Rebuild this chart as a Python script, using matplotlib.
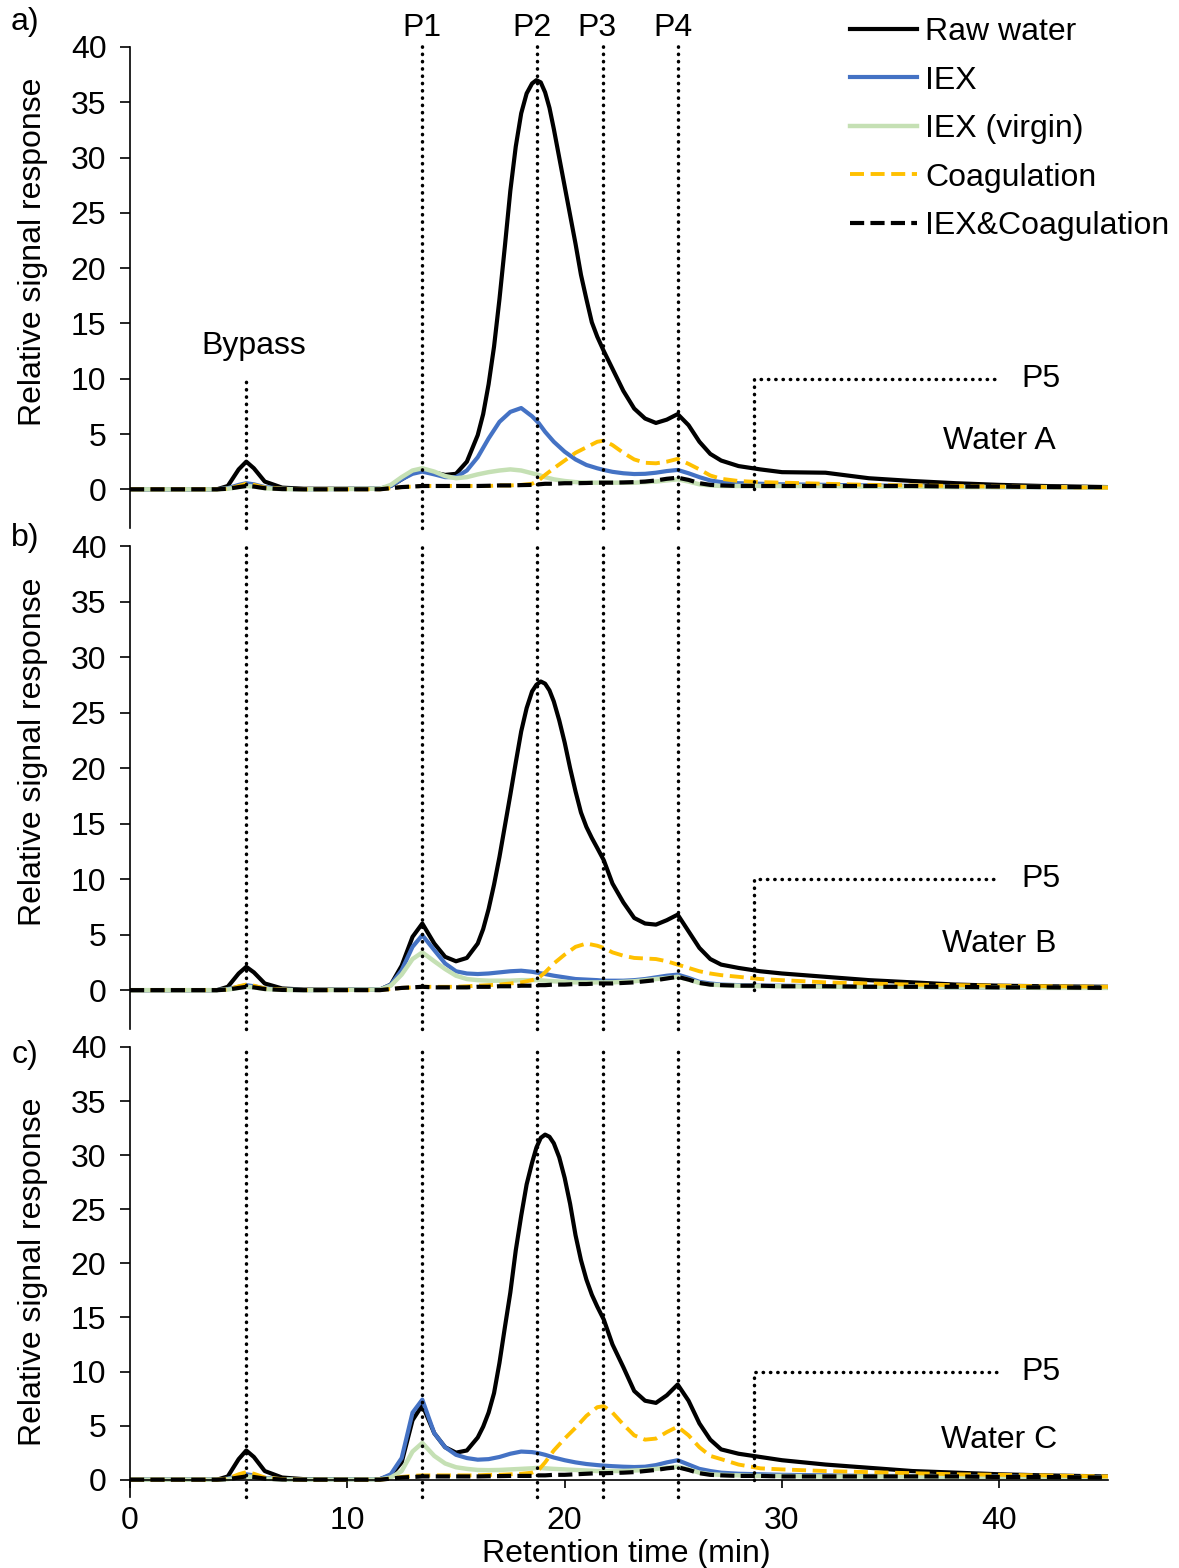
import numpy as np
import matplotlib.pyplot as plt

plt.rcParams['font.family'] = ['Liberation Sans', 'DejaVu Sans']
plt.rcParams['font.size'] = 23

# retention time grid (min) for the treated samples
t = [0, 4, 4.5, 5, 5.35, 5.7, 6.2, 7, 8, 11.5, 12, 12.5, 13, 13.45, 14, 14.5, 15, 15.5,
     16, 16.5, 17, 17.5, 18, 18.5, 18.8, 19.1, 19.5, 20, 20.5, 21, 21.5, 21.8, 22.2, 22.7,
     23.2, 23.7, 24.2, 24.7, 25.2, 25.7, 26.2, 26.7, 27.2, 28, 29, 30, 32, 34, 36, 38, 40, 42, 45]

# denser grid for the raw water (tall main peak)
t_raw = [0, 4, 4.5, 5, 5.35, 5.7, 6.2, 7, 8, 11.5, 12, 12.5, 13, 13.45, 14, 14.5, 15, 15.5,
         16, 16.25, 16.5, 16.75, 17, 17.25, 17.5, 17.75, 18, 18.25, 18.5, 18.7, 18.9, 19.1, 19.3,
         19.5, 19.75, 20, 20.25, 20.5, 20.75, 21, 21.25, 21.5, 21.8, 22.2, 22.7,
         23.2, 23.7, 24.2, 24.7, 25.2, 25.7, 26.2, 26.7, 27.2, 28, 29, 30, 32, 34, 36, 38, 40, 42, 45]

# --- Water A ---
raw_a = [0, 0, 0.3, 1.8, 2.5, 1.9, 0.7, 0.15, 0.05, 0.05, 0.3, 0.9, 1.5, 1.75, 1.5, 1.3, 1.4, 2.5,
         4.9, 6.8, 9.5, 12.9, 17.2, 22.0, 27.0, 31.0, 34.0, 35.8, 36.7, 37.0, 36.8, 35.9, 34.5,
         32.6, 30.0, 27.4, 24.8, 22.2, 19.4, 17.2, 15.1, 13.8, 12.5, 10.9, 8.9,
         7.3, 6.4, 6.0, 6.3, 6.8, 5.8, 4.3, 3.2, 2.6, 2.1, 1.8, 1.55, 1.5, 1.0, 0.75, 0.55, 0.4, 0.3, 0.2]
iex_a = [0, 0, 0.1, 0.4, 0.55, 0.45, 0.2, 0.05, 0, 0.05, 0.3, 0.9, 1.4, 1.6, 1.35, 1.1, 1.1, 1.7,
         2.9, 4.6, 6.1, 7.0, 7.35, 6.6, 6.0, 5.2, 4.3, 3.4, 2.7, 2.2, 1.9, 1.75, 1.58, 1.45,
         1.38, 1.4, 1.5, 1.65, 1.75, 1.45, 1.1, 0.8, 0.65, 0.55, 0.5, 0.45, 0.4, 0.35, 0.3, 0.25, 0.2, 0.2, 0.15]
virgin_a = [0, 0, 0.05, 0.2, 0.3, 0.25, 0.1, 0.02, 0, 0.05, 0.4, 1.1, 1.7, 1.9, 1.6, 1.2, 1.0, 1.1,
            1.35, 1.55, 1.7, 1.8, 1.7, 1.45, 1.3, 1.1, 0.9, 0.75, 0.65, 0.6, 0.6, 0.6, 0.6, 0.6,
            0.6, 0.65, 0.7, 0.8, 0.9, 0.7, 0.45, 0.35, 0.3, 0.3, 0.3, 0.3, 0.3, 0.25, 0.25, 0.2, 0.2, 0.2, 0.15]
coag_a = [0, 0, 0.05, 0.3, 0.5, 0.4, 0.15, 0.05, 0, 0, 0.1, 0.2, 0.25, 0.3, 0.3, 0.3, 0.3, 0.3,
          0.3, 0.3, 0.35, 0.35, 0.4, 0.5, 0.8, 1.3, 1.9, 2.6, 3.3, 3.8, 4.3, 4.4, 4.0, 3.3,
          2.7, 2.4, 2.35, 2.5, 2.75, 2.3, 1.8, 1.25, 0.95, 0.75, 0.65, 0.6, 0.5, 0.4, 0.35, 0.3, 0.25, 0.2, 0.15]
both_a = [0, 0, 0.05, 0.2, 0.3, 0.25, 0.1, 0.02, 0, 0, 0.1, 0.2, 0.25, 0.3, 0.3, 0.3, 0.3, 0.3,
          0.3, 0.32, 0.35, 0.35, 0.38, 0.4, 0.45, 0.5, 0.5, 0.55, 0.55, 0.57, 0.6, 0.6, 0.6, 0.62,
          0.65, 0.7, 0.8, 0.95, 1.05, 0.85, 0.55, 0.4, 0.35, 0.3, 0.3, 0.3, 0.3, 0.3, 0.3, 0.25, 0.25, 0.2, 0.2]

# --- Water B ---
raw_b = [0, 0, 0.3, 1.5, 2.1, 1.6, 0.6, 0.15, 0.05, 0.05, 0.5, 2.2, 4.8, 6.0, 4.2, 3.0, 2.6, 2.9,
         4.2, 5.5, 7.3, 9.5, 12.0, 14.8, 17.6, 20.5, 23.3, 25.4, 26.9, 27.5, 27.8, 27.6, 27.0,
         26.0, 24.3, 22.3, 20.0, 17.9, 16.0, 14.7, 13.7, 12.8, 11.7, 9.6, 7.9,
         6.5, 6.0, 5.9, 6.3, 6.8, 5.3, 3.8, 2.8, 2.3, 2.0, 1.7, 1.5, 1.2, 0.9, 0.7, 0.5, 0.4, 0.35, 0.3]
iex_b = [0, 0, 0.1, 0.3, 0.45, 0.35, 0.15, 0.05, 0, 0.05, 0.5, 1.8, 3.9, 4.95, 3.6, 2.4, 1.7, 1.5,
         1.45, 1.5, 1.6, 1.7, 1.75, 1.65, 1.55, 1.45, 1.3, 1.15, 1.0, 0.95, 0.9, 0.85, 0.85, 0.85,
         0.9, 1.0, 1.15, 1.3, 1.4, 1.1, 0.75, 0.6, 0.5, 0.45, 0.4, 0.4, 0.35, 0.3, 0.3, 0.25, 0.25, 0.2, 0.2]
virgin_b = [0, 0, 0.05, 0.2, 0.3, 0.25, 0.1, 0.02, 0, 0.05, 0.4, 1.4, 2.8, 3.4, 2.6, 1.9, 1.3, 1.0,
            0.9, 0.85, 0.85, 0.85, 0.9, 0.9, 0.9, 0.85, 0.8, 0.75, 0.7, 0.7, 0.7, 0.7, 0.7, 0.75,
            0.8, 0.9, 1.0, 1.1, 1.2, 0.95, 0.65, 0.5, 0.45, 0.4, 0.35, 0.35, 0.3, 0.3, 0.3, 0.25, 0.25, 0.2, 0.2]
coag_b = [0, 0, 0.05, 0.35, 0.5, 0.4, 0.15, 0.05, 0, 0, 0.1, 0.2, 0.25, 0.3, 0.3, 0.3, 0.3, 0.35,
          0.4, 0.45, 0.5, 0.6, 0.7, 0.9, 1.1, 1.6, 2.4, 3.2, 3.9, 4.2, 4.0, 3.8, 3.4, 3.1,
          2.9, 2.85, 2.8, 2.6, 2.3, 2.0, 1.7, 1.5, 1.35, 1.2, 1.0, 0.9, 0.7, 0.6, 0.5, 0.45, 0.4, 0.35, 0.3]
both_b = [0, 0, 0.05, 0.2, 0.3, 0.25, 0.1, 0.02, 0, 0, 0.1, 0.2, 0.25, 0.3, 0.25, 0.25, 0.25, 0.25,
          0.3, 0.3, 0.35, 0.35, 0.4, 0.4, 0.45, 0.45, 0.5, 0.5, 0.55, 0.55, 0.6, 0.6, 0.6, 0.65,
          0.7, 0.8, 0.9, 1.05, 1.2, 0.95, 0.65, 0.5, 0.45, 0.4, 0.4, 0.35, 0.35, 0.3, 0.3, 0.3, 0.25, 0.25, 0.2]

# --- Water C ---
raw_c = [0, 0, 0.3, 1.9, 2.7, 2.1, 0.8, 0.2, 0.05, 0.05, 0.4, 1.6, 5.5, 6.9, 4.3, 3.0, 2.5, 2.7,
         3.9, 4.9, 6.2, 8.0, 10.8, 14.1, 17.3, 21.2, 24.4, 27.3, 29.3, 30.7, 31.6, 31.9, 31.7,
         31.1, 29.8, 27.9, 25.5, 22.6, 20.3, 18.5, 17.1, 16.0, 14.8, 12.5, 10.4,
         8.2, 7.3, 7.1, 7.8, 8.8, 7.3, 5.2, 3.7, 2.8, 2.4, 2.1, 1.8, 1.4, 1.1, 0.8, 0.65, 0.5, 0.4, 0.3]
iex_c = [0, 0, 0.1, 0.35, 0.5, 0.4, 0.15, 0.05, 0, 0.05, 0.5, 2.0, 6.2, 7.4, 4.3, 3.0, 2.3, 2.0,
         1.85, 1.9, 2.1, 2.4, 2.6, 2.55, 2.45, 2.3, 2.05, 1.8, 1.6, 1.45, 1.35, 1.3, 1.25, 1.2,
         1.17, 1.2, 1.35, 1.6, 1.8, 1.4, 1.0, 0.8, 0.65, 0.55, 0.5, 0.45, 0.4, 0.35, 0.35, 0.3, 0.3, 0.25, 0.25]
virgin_c = [0, 0, 0.05, 0.2, 0.3, 0.25, 0.1, 0.02, 0, 0.02, 0.2, 0.8, 2.6, 3.4, 2.2, 1.5, 1.15, 1.0,
            0.9, 0.88, 0.9, 0.95, 1.0, 1.05, 1.1, 1.05, 1.0, 0.95, 0.9, 0.85, 0.8, 0.8, 0.8, 0.8,
            0.85, 0.9, 1.0, 1.1, 1.2, 0.95, 0.65, 0.5, 0.45, 0.4, 0.35, 0.35, 0.3, 0.3, 0.3, 0.25, 0.25, 0.2, 0.2]
coag_c = [0, 0, 0.1, 0.5, 0.7, 0.55, 0.2, 0.05, 0, 0, 0.1, 0.25, 0.35, 0.4, 0.4, 0.4, 0.4, 0.4,
          0.4, 0.45, 0.45, 0.5, 0.55, 0.65, 0.9, 1.6, 2.7, 3.8, 4.8, 5.9, 6.7, 6.8, 6.2, 5.1,
          4.1, 3.7, 3.8, 4.4, 4.9, 4.1, 3.0, 2.2, 1.9, 1.4, 1.05, 0.95, 0.8, 0.7, 0.6, 0.5, 0.45, 0.4, 0.3]
both_c = [0, 0, 0.05, 0.2, 0.3, 0.25, 0.1, 0.02, 0, 0, 0.1, 0.2, 0.25, 0.3, 0.3, 0.3, 0.3, 0.3,
          0.3, 0.32, 0.33, 0.35, 0.35, 0.35, 0.4, 0.4, 0.45, 0.45, 0.5, 0.55, 0.6, 0.6, 0.62, 0.65,
          0.7, 0.8, 0.9, 1.05, 1.15, 0.9, 0.6, 0.45, 0.4, 0.35, 0.35, 0.3, 0.3, 0.3, 0.3, 0.3, 0.25, 0.25, 0.2]

labels = ['Raw water', 'IEX', 'IEX (virgin)', 'Coagulation', 'IEX&Coagulation']
panel_tags = ['a)', 'b)', 'c)']
water_names = ['Water A', 'Water B', 'Water C']

# peak markers (min)
bypass_x = 5.34
peak_x = [13.44, 18.73, 21.77, 25.22]
peak_names = ['P1', 'P2', 'P3', 'P4']
peak_label_x = [13.44, 18.5, 21.47, 24.99]
p5_x = [28.72, 39.9]

styles = [dict(color='black', lw=3.0),
          dict(color='#4472C4', lw=3.0),
          dict(color='#C5E0B4', lw=3.2),
          dict(color='#FFC000', lw=2.8, dashes=(3.6, 1.7)),
          dict(color='black', lw=3.0, dashes=(3.4, 1.5))]

series = [[raw_a, iex_a, virgin_a, coag_a, both_a],
          [raw_b, iex_b, virgin_b, coag_b, both_b],
          [raw_c, iex_c, virgin_c, coag_c, both_c]]

W, H = 1179, 1568
fig = plt.figure(figsize=(W / 100, H / 100), dpi=100)

# (top px, bottom px, ymin)
boxes = [(47, 528, -3.5), (546, 1029, -3.5), (1047, 1497, -1.6)]
ylab_y = [0.574, 0.573, 0.5]
dot = dict(color='black', lw=2.5, linestyle=(0, (0.1, 2.0)), dash_capstyle='round')

axes = []
for i, (top, bot, ymin) in enumerate(boxes):
    ax = fig.add_axes([130 / W, 1 - bot / H, 978 / W, (bot - top) / H])
    axes.append(ax)
    for k, (ys, lab, st) in enumerate(zip(series[i], labels, styles)):
        xs = t_raw if k == 0 else t
        ax.plot(xs, ys, label=lab, solid_joinstyle='round', **st)

    ax.set_xlim(0, 45)
    ax.set_ylim(ymin, 40)
    ax.set_yticks(np.arange(0, 41, 5))
    for s in ['top', 'right']:
        ax.spines[s].set_visible(False)
    ax.spines['left'].set_linewidth(1.2)
    ax.tick_params(axis='y', direction='out', length=7, width=1.2, pad=10, labelsize=23)
    ax.set_ylabel('Relative signal response', fontsize=23)
    ax.yaxis.set_label_coords(-0.084, ylab_y[i])

    # dotted guide lines
    top_y = 40.5 if i == 0 else 40
    for px in peak_x:
        ax.plot([px, px], [ymin, top_y], clip_on=False, **dot)
    ax.plot([bypass_x, bypass_x], [ymin, 10 if i == 0 else 40], clip_on=False, **dot)
    ax.plot([p5_x[0], p5_x[0], p5_x[1]], [0, 10, 10], **dot)
    ax.text(41.9, 10, 'P5', ha='center', va='center', fontsize=23)
    ax.text(40.0, [4.4, 4.15, 3.7][i], water_names[i], ha='center', va='center', fontsize=23)

    fig.text(25 / W, 1 - [22, 538, 1055][i] / H, panel_tags[i], ha='center', va='center', fontsize=23)

    if i < 2:
        ax.spines['bottom'].set_visible(False)
        ax.tick_params(axis='x', bottom=False, labelbottom=False)
    else:
        ax.spines['bottom'].set_position(('data', 0))
        ax.spines['bottom'].set_linewidth(1.2)
        ax.set_xticks([0, 10, 20, 30, 40])
        ax.tick_params(axis='x', direction='out', length=6, width=1.2, pad=13, labelsize=23)
        ax.set_xlabel('Retention time (min)', fontsize=23, labelpad=0)
        ax.xaxis.set_label_coords(0.507, -0.093)

axa = axes[0]
axa.text(5.7, 13.0, 'Bypass', ha='center', va='center', fontsize=23)
for px, nm in zip(peak_label_x, peak_names):
    axa.text(px, 41.7, nm, ha='center', va='center', fontsize=23, clip_on=False)

handles, labs = axa.get_legend_handles_labels()
fig.legend(handles, labs, loc='upper left', bbox_to_anchor=(850 / W, 1 - 17 / H),
           frameon=False, handlelength=2.1, handletextpad=0.25, labelspacing=0.58,
           borderpad=0, borderaxespad=0, fontsize=23)

fig.savefig('out.png', dpi=100)
